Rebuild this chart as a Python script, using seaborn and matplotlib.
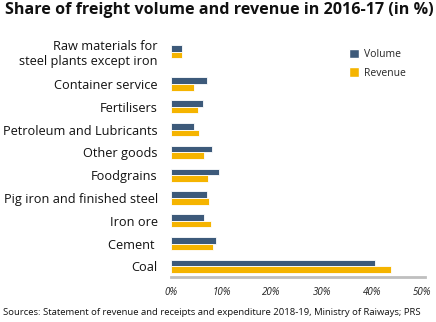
import matplotlib
matplotlib.use("Agg")
import matplotlib.pyplot as plt
import seaborn as sns
import pandas as pd
from matplotlib.patches import Patch

categories = ["Raw materials for\nsteel plants except iron", "Container service", "Fertilisers",
              "Petroleum and Lubricants", "Other goods", "Foodgrains",
              "Pig iron and finished steel", "Iron ore", "Cement ", "Coal"]
volume = [2.1, 7.1, 6.3, 4.6, 8.0, 9.4, 7.1, 6.4, 8.9, 40.6]
revenue = [2.1, 4.5, 5.3, 5.5, 6.5, 7.2, 7.5, 7.9, 8.3, 43.8]
xticks = [0, 10, 20, 30, 40, 50]
xticklabels = ["0%", "10%", "20%", "30%", "40%", "50%"]

# layout: row positions (first row set apart with extra space)
row_pos = [0.0] + [1.42 + i for i in range(len(categories) - 1)]

sns.set_theme(style="white")
plt.rcParams['font.family'] = ['Open Sans', 'DejaVu Sans']

df = pd.DataFrame({
    "pos": row_pos * 2,
    "value": volume + revenue,
    "series": ["Volume"] * len(categories) + ["Revenue"] * len(categories),
})
colors = {"Volume": "#3D5A7A", "Revenue": "#F5B400"}

fig = plt.figure(figsize=(4.36, 3.22), dpi=100)
ax = fig.add_axes([0.392, 0.1398, 0.583, 0.742])
sns.barplot(data=df, y="pos", x="value", hue="series", palette=colors,
            hue_order=["Volume", "Revenue"], orient="h", native_scale=True,
            width=0.58, saturation=1, edgecolor="white", linewidth=0.6,
            ax=ax, legend=False)

ax.set_ylim(9.88, -0.59)
ax.set_yticks(row_pos)
ax.set_yticklabels(categories)
ax.set_xlim(-0.1, 50.6)
ax.set_xticks(xticks)
ax.set_xticklabels(xticklabels, fontsize=7, fontstyle="italic", color="#222222")
ax.tick_params(axis="y", labelsize=9.2, length=0, pad=9.5, labelcolor="#111111")
ax.tick_params(axis="x", length=0, pad=7)
ax.set_xlabel("")
ax.set_ylabel("")
for s in ["top", "right", "left"]:
    ax.spines[s].set_visible(False)
ax.spines["bottom"].set_color("#BFBFBF")
ax.spines["bottom"].set_linewidth(2)

handles = [Patch(facecolor=colors["Volume"], label="Volume"),
           Patch(facecolor=colors["Revenue"], label="Revenue")]
ax.legend(handles=handles, loc="upper left", bbox_to_anchor=(0.70, 0.955), frameon=False,
          borderpad=0, borderaxespad=0,
          fontsize=7.5, handlelength=1.0, handleheight=1.0, handletextpad=0.5, labelspacing=0.7)

fig.text(0.012, 0.968, "Share of freight volume and revenue in 2016-17 (in %)",
         fontsize=11.6, fontweight="bold", color="#111111", va="center", ha="left")
fig.text(0.008, 0.03, "Sources: Statement of revenue and receipts and expenditure 2018-19, Ministry of Raiways; PRS",
         fontsize=6.8, color="#111111", va="center", ha="left")

fig.savefig("out.png", dpi=100)
